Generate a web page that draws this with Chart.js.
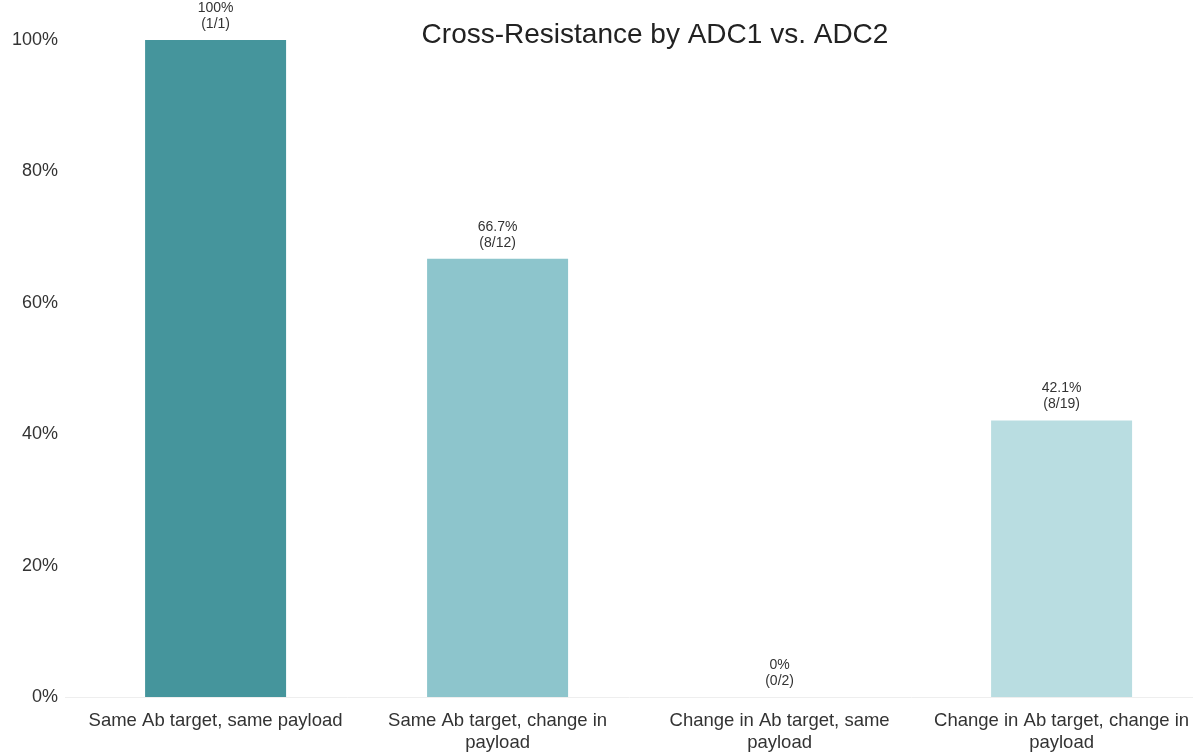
<!DOCTYPE html>
<html>
<head>
<meta charset="utf-8">
<title>Cross-Resistance by ADC1 vs. ADC2</title>
<script src="https://cdn.jsdelivr.net/npm/chart.js@4/dist/chart.umd.min.js"></script>
<style>
  html, body { margin: 0; padding: 0; background: #ffffff; }
  #wrap { width: 1193px; height: 752px; position: relative; }
</style>
</head>
<body>
<div id="wrap"><canvas id="chart"></canvas></div>
<script>
// Category names, wrapped onto the lines shown under each bar
const categories = [
  ["Same Ab target, same payload"],
  ["Same Ab target, change in", "payload"],
  ["Change in Ab target, same", "payload"],
  ["Change in Ab target, change in", "payload"]
];
// Share of patients with cross-resistance (%)
const resistantPct = [100, 66.7, 0, 42.1];
// Counts behind each share
const resistantN = [1, 8, 0, 8];
const totalN = [1, 12, 2, 19];
const barColors = ["#45959c", "#8dc5cc", "#a9d4d9", "#b9dde1"];
const yTicks = [0, 20, 40, 60, 80, 100];

const FONT = "'Liberation Sans', Arial, Helvetica, sans-serif";

function pctText(v) {
  return (Number.isInteger(v) ? String(v) : v.toFixed(1)) + "%";
}

// Two-line value labels above each bar
const valueLabels = {
  id: "valueLabels",
  afterDatasetsDraw(chart) {
    const ctx = chart.ctx;
    const meta = chart.getDatasetMeta(0);
    ctx.save();
    ctx.font = "14px " + FONT;
    ctx.fillStyle = "#333333";
    ctx.textAlign = "center";
    ctx.textBaseline = "middle";
    meta.data.forEach((bar, i) => {
      ctx.fillText(pctText(resistantPct[i]), bar.x, bar.y - 32);
      ctx.fillText("(" + resistantN[i] + "/" + totalN[i] + ")", bar.x, bar.y - 16);
    });
    ctx.restore();
  }
};

// Chart title, set inside the plot area
const titleText = {
  id: "titleText",
  afterDraw(chart) {
    const ctx = chart.ctx;
    ctx.save();
    ctx.font = "28px " + FONT;
    ctx.fillStyle = "#222222";
    ctx.textAlign = "center";
    ctx.textBaseline = "middle";
    ctx.fillText("Cross-Resistance by ADC1 vs. ADC2", 655, 35);
    ctx.restore();
  }
};

new Chart(document.getElementById("chart"), {
  type: "bar",
  data: {
    datasets: [{
      data: resistantPct.map((v, i) => ({ x: i, y: v })),
      backgroundColor: barColors,
      borderWidth: 0,
      barPercentage: 0.5,
      categoryPercentage: 1.0
    }]
  },
  options: {
    responsive: true,
    maintainAspectRatio: false,
    animation: false,
    layout: { padding: { top: 40, left: 0, right: 0, bottom: 0 } },
    plugins: {
      legend: { display: false },
      title: { display: false },
      tooltip: { enabled: false }
    },
    scales: {
      x: {
        type: "linear",
        min: -0.534,
        max: 3.466,
        offset: false,
        grid: { display: false, drawTicks: false, offset: false },
        border: { display: true, color: "#eeeeee", width: 1 },
        afterBuildTicks(axis) {
          axis.ticks = categories.map((_, i) => ({ value: i }));
        },
        afterFit(axis) {
          axis.height = 55;
          // labels may run right up to the canvas edge; keep the plot full width
          axis.paddingLeft = 0;
          axis.paddingRight = 0;
        },
        ticks: {
          autoSkip: false,
          maxRotation: 0,
          padding: 13,
          color: "#333333",
          font: { family: FONT, size: 18.5, lineHeight: 1.2 },
          callback: (value) => categories[value]
        }
      },
      y: {
        min: 0,
        max: 100,
        grid: { display: false, drawTicks: false },
        border: { display: false },
        afterBuildTicks(axis) {
          axis.ticks = yTicks.map(v => ({ value: v }));
        },
        afterFit(axis) { axis.width = 65; },
        ticks: {
          padding: 7,
          color: "#333333",
          font: { family: FONT, size: 18 },
          callback: (v) => v + "%"
        }
      }
    }
  },
  plugins: [valueLabels, titleText]
});
</script>
</body>
</html>
